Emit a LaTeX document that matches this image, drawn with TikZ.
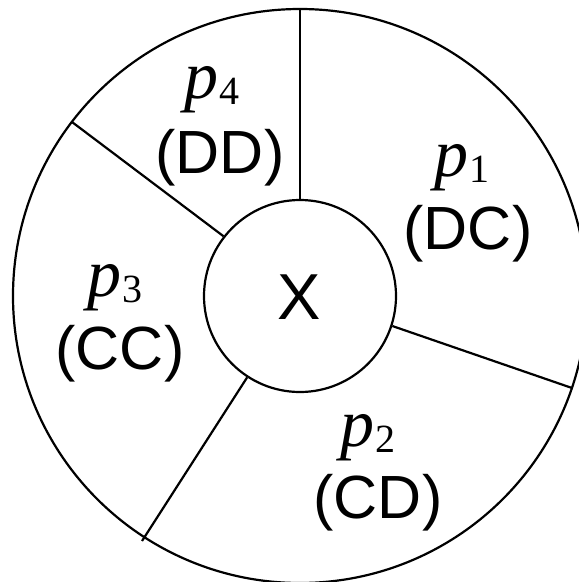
\documentclass[tikz,border=0pt]{standalone}
\usepackage{fontspec}
\setmainfont{Liberation Sans}
\newfontfamily\tnr{Liberation Serif}
\begin{document}
\begin{tikzpicture}[x=1pt,y=-1pt,
  ring/.style={draw=black,line width=2.2pt},
  divider/.style={draw=black,line width=2.2pt},
  lbl/.style={inner sep=0pt,anchor=base,font=\fontsize{61}{61}\selectfont},
  plbl/.style={inner sep=0pt,anchor=base},
  xlbl/.style={inner sep=0pt,anchor=base,font=\fontsize{65}{65}\selectfont}]
\newcommand{\pl}[1]{{\tnr\fontsize{68}{68}\selectfont\itshape p}\kern1pt\raisebox{-6pt}{\tnr\fontsize{40}{40}\selectfont #1}}
\useasboundingbox (0,0) rectangle (579,582);
\coordinate (c) at (300,296);
\draw[ring] (c) circle[radius=287];
\node[draw=black,line width=2.2pt,circle,minimum size=192pt,inner sep=0pt] (in) at (c) {};
\coordinate (o1) at (300,9);
\coordinate (o2) at (572,388);
\coordinate (o3) at (142,541);
\coordinate (o4) at (72,122);
\draw[divider] (in.north) -- (o1);
\draw[divider] (in.-18.7) -- (o2);
\draw[divider] (in.-123) -- (o3);
\draw[divider] (in.142) -- (o4);
\node[xlbl] (x) at (299,319) {X};
\node[plbl] (p1) at (462,176) {\pl{1}};
\node[lbl] (l1) at (468,249) {(DC)};
\node[plbl] (p2) at (368,446) {\pl{2}};
\node[lbl] (l2) at (378,518) {(CD)};
\node[plbl] (p3) at (115,296) {\pl{3}};
\node[lbl] (l3) at (120,369) {(CC)};
\node[plbl] (p4) at (212,98) {\pl{4}};
\node[lbl] (l4) at (220,173) {(DD)};
\end{tikzpicture}
\end{document}
